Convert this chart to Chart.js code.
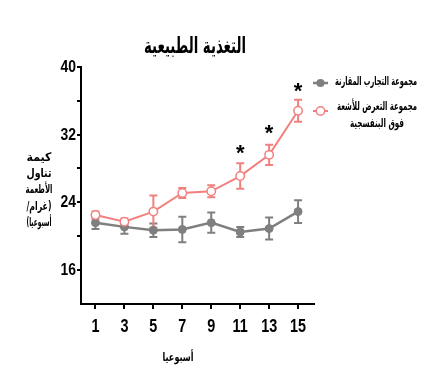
<!DOCTYPE html>
<html><head><meta charset="utf-8">
<script src="https://cdn.jsdelivr.net/npm/chart.js@4.4.1/dist/chart.umd.min.js"></script>
<style>html,body{margin:0;padding:0;background:#fff}canvas{display:block}</style>
</head><body>
<canvas id="c" width="443" height="386"></canvas>
<script>
const weeks=[1,3,5,7,9,11,13,15];
const controlMean=[21.6,21.1,20.7,20.8,21.6,20.5,20.9,22.9];
const controlErr=[0.75,0.8,0.8,1.5,1.2,0.6,1.3,1.35];
const uvMean=[22.5,21.7,22.9,25.1,25.3,27.1,29.6,34.8];
const uvErr=[0.4,0.4,1.9,0.6,0.7,1.5,1.2,1.3];
const starWeeks=[11,13,15];
const starY=[30.2,32.6,37.6];
const yTicks=[16,20,24,28,32,36,40];
const yLabeled=[16,24,32,40];
const titleText='التغذية الطبيعية';
const yTitle=['كيمة','تناول','الأطعمة','(غرام/','أسبوعيا)'];
const xTitle='أسبوعيا';
const legendControl=['مجموعة التجارب المقارنة'];
const legendUV=['مجموعة التعرض للأشعة','فوق البنفسجية'];

const GRAY='#7f7f7f', RED='#f2807f';
const NUM_FONT="'Liberation Sans',Arial,sans-serif";
const AR_FONT="'DejaVu Sans',sans-serif";

const errPlugin={
  id:'err',
  beforeDatasetsDraw(chart){
    const ctx=chart.ctx, xs=chart.scales.x, ys=chart.scales.y;
    const sets=[[controlMean,controlErr,GRAY],[uvMean,uvErr,RED]];
    ctx.save();
    sets.forEach(([m,e,col])=>{
      ctx.strokeStyle=col; ctx.lineWidth=2;
      weeks.forEach((w,i)=>{
        const x=xs.getPixelForValue(w);
        const t=ys.getPixelForValue(m[i]+e[i]), b=ys.getPixelForValue(m[i]-e[i]);
        ctx.beginPath();
        ctx.moveTo(x,t);ctx.lineTo(x,b);
        ctx.moveTo(x-4,t);ctx.lineTo(x+4,t);
        ctx.moveTo(x-4,b);ctx.lineTo(x+4,b);
        ctx.stroke();
      });
    });
    ctx.restore();
  }
};

function txt(ctx,s,x,y,font,maxW){
  ctx.font=font;
  const w=ctx.measureText(s).width;
  if(maxW && w>maxW) ctx.fillText(s,x,y,maxW); else ctx.fillText(s,x,y);
}
function narrow(ctx,s,x,y,align,sx){
  ctx.save();
  ctx.translate(x,y);
  ctx.scale(sx,1);
  ctx.textAlign=align;
  ctx.fillText(s,0,0);
  ctx.restore();
}

const textPlugin={
  id:'texts',
  afterDraw(chart){
    const ctx=chart.ctx, xs=chart.scales.x, ys=chart.scales.y;
    ctx.save();
    ctx.fillStyle='#000';
    // numeric tick labels (condensed bold)
    ctx.textBaseline='middle';
    ctx.font="bold 17px "+NUM_FONT;
    yLabeled.forEach(v=>narrow(ctx,String(v),76,ys.getPixelForValue(v)+0.5,'right',0.82));
    ctx.font="bold 18px "+NUM_FONT;
    weeks.forEach(v=>narrow(ctx,String(v),xs.getPixelForValue(v),327,'center',0.8));
    // arabic texts
    ctx.direction='rtl';
    ctx.textAlign='center';
    txt(ctx,titleText,195,47,"bold 22px "+AR_FONT,102);
    const yl=[158,174,190,207,223];
    yTitle.forEach((s,i)=>txt(ctx,s,39,yl[i],"bold 12px "+AR_FONT,i==2?27:25));
    txt(ctx,xTitle,178,358,"bold 12px "+AR_FONT,31);
    txt(ctx,legendControl[0],376,82,"bold 12px "+AR_FONT,82);
    txt(ctx,legendUV[0],377,107,"bold 12px "+AR_FONT,80);
    txt(ctx,legendUV[1],377,124,"bold 12px "+AR_FONT,54);
    ctx.direction='ltr';
    // legend markers
    ctx.lineWidth=2.5; ctx.strokeStyle=GRAY; ctx.fillStyle=GRAY;
    ctx.beginPath();ctx.moveTo(313,83);ctx.lineTo(328,83);ctx.stroke();
    ctx.beginPath();ctx.arc(320.5,83,4,0,Math.PI*2);ctx.fill();
    ctx.lineWidth=2; ctx.strokeStyle=RED; ctx.fillStyle='#fff';
    ctx.beginPath();ctx.moveTo(313,111);ctx.lineTo(328,111);ctx.stroke();
    ctx.lineWidth=1.5;
    ctx.beginPath();ctx.arc(320.5,111,4.2,0,Math.PI*2);ctx.fill();ctx.stroke();
    // asterisks
    ctx.fillStyle='#000';
    ctx.font="bold 22px 'Liberation Sans',sans-serif";
    ctx.textAlign='center';
    ctx.textBaseline='alphabetic';
    const m=ctx.measureText('*');
    const off=(m.actualBoundingBoxAscent-m.actualBoundingBoxDescent)/2;
    starWeeks.forEach((w,i)=>{
      ctx.fillText('*',xs.getPixelForValue(w),ys.getPixelForValue(starY[i])+off);
    });
    ctx.restore();
  }
};

new Chart(document.getElementById('c'),{
  type:'line',
  data:{datasets:[
    {label:legendControl[0],data:weeks.map((w,i)=>({x:w,y:controlMean[i]})),
     borderColor:GRAY,backgroundColor:GRAY,pointBackgroundColor:GRAY,pointBorderColor:GRAY,
     borderWidth:2.5,pointRadius:4,pointBorderWidth:1,order:2},
    {label:legendUV.join(' '),data:weeks.map((w,i)=>({x:w,y:uvMean[i]})),
     borderColor:RED,backgroundColor:'#fff',pointBackgroundColor:'#fff',pointBorderColor:RED,
     borderWidth:2,pointRadius:4.2,pointBorderWidth:1.5,order:1}
  ]},
  options:{
    responsive:false,animation:false,
    layout:{padding:{left:0,top:66.7,right:129,bottom:0}},
    plugins:{legend:{display:false},tooltip:{enabled:false},title:{display:false}},
    scales:{
      x:{type:'linear',min:0,max:16.1,
        afterBuildTicks:s=>{s.ticks=weeks.map(v=>({value:v}));},
        afterFit:s=>{s.height=82;},
        grid:{display:true,drawOnChartArea:false,drawTicks:true,tickLength:5,color:'#000',lineWidth:2},
        border:{display:true,color:'#000',width:2},
        ticks:{display:false,autoSkip:false,maxRotation:0}},
      y:{type:'linear',min:12,max:40,
        afterBuildTicks:s=>{s.ticks=yTicks.map(v=>({value:v}));},
        afterFit:s=>{s.width=81;},
        grid:{display:true,drawOnChartArea:false,drawTicks:true,tickLength:4,color:'#000',lineWidth:2},
        border:{display:true,color:'#000',width:2},
        ticks:{display:false,autoSkip:false}}
    }
  },
  plugins:[errPlugin,textPlugin]
});
</script>
</body></html>
